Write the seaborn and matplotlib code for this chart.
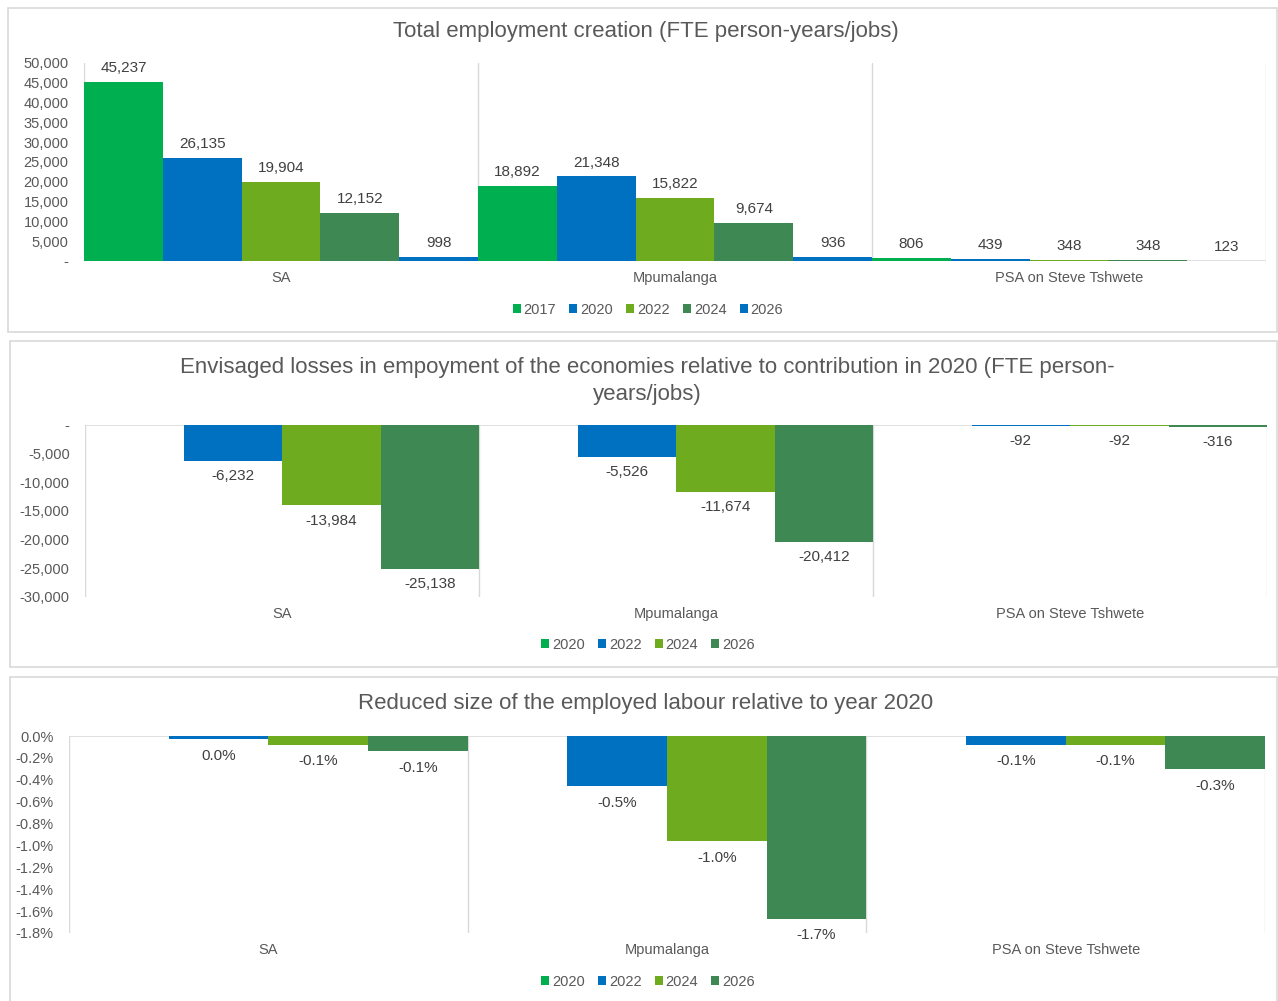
import matplotlib
matplotlib.use("Agg")
import matplotlib.pyplot as plt
from matplotlib.patches import Rectangle
from matplotlib.ticker import FuncFormatter, MultipleLocator
import pandas as pd
import seaborn as sns

regions = ["SA", "Mpumalanga", "PSA on Steve Tshwete"]

# Total employment creation (FTE person-years/jobs)
years_total = ["2017", "2020", "2022", "2024", "2026"]
total_2017 = [45237, 18892, 806]
total_2020 = [26135, 21348, 439]
total_2022 = [19904, 15822, 348]
total_2024 = [12152, 9674, 348]
total_2026 = [998, 936, 123]

# Envisaged losses relative to 2020
years_loss = ["2020", "2022", "2024", "2026"]
loss_2020 = [0, 0, 0]
loss_2022 = [-6232, -5526, -92]
loss_2024 = [-13984, -11674, -92]
loss_2026 = [-25138, -20412, -316]

# Reduced size of employed labour relative to 2020 (fraction)
share_2020 = [0.0, 0.0, 0.0]
share_2022 = [-0.0003, -0.0046, -0.0008]
share_2024 = [-0.0008, -0.0096, -0.0008]
share_2026 = [-0.0014, -0.0167, -0.0030]

GREEN = "#00B050"
BLUE = "#0070C0"
LIME = "#6EAB1E"
DARK = "#3E8853"
GRID = "#D9D9D9"
TXT = "#595959"
LAB = "#404040"

pal_total = {"2017": GREEN, "2020": BLUE, "2022": LIME, "2024": DARK, "2026": BLUE}
pal_loss = {"2020": GREEN, "2022": BLUE, "2024": LIME, "2026": DARK}


def long_df(years, series):
    rows = []
    for yr, vals in zip(years, series):
        for reg, v in zip(regions, vals):
            rows.append({"region": reg, "year": yr, "value": v})
    return pd.DataFrame(rows)


df_total = long_df(years_total, [total_2017, total_2020, total_2022, total_2024, total_2026])
df_loss = long_df(years_loss, [loss_2020, loss_2022, loss_2024, loss_2026])
df_share = long_df(years_loss, [share_2020, share_2022, share_2024, share_2026])

sns.set_theme(style="white")
plt.rcParams["font.family"] = ["Liberation Sans", "DejaVu Sans"]

W, H = 1278, 1001
fig = plt.figure(figsize=(W / 100, H / 100), dpi=100)


def fx(px):
    return px / W


def fy(py):
    return 1 - py / H


# chart borders
for (x0, y0, x1, y1) in [(8, 8, 1277, 332), (10, 341, 1277, 667), (10, 677, 1277, 1010)]:
    fig.patches.append(Rectangle((fx(x0), fy(y1)), fx(x1 - x0), (y1 - y0) / H,
                                 transform=fig.transFigure, fill=False,
                                 edgecolor=GRID, linewidth=1.2))


def panel(rect, df, years, palette, ylim, step, yfmt, lfmt, pad, legend_y):
    x0, y0, x1, y1 = rect
    ax = fig.add_axes([fx(x0), fy(y1), fx(x1 - x0), (y1 - y0) / H])
    sns.barplot(data=df, x="region", y="value", hue="year", hue_order=years,
                order=regions, palette=palette, width=1, gap=0, saturation=1,
                linewidth=0, errorbar=None, ax=ax)
    ax.set_xlim(-0.5, 2.5)
    ax.set_ylim(*ylim)
    ax.yaxis.set_major_locator(MultipleLocator(step))
    ax.yaxis.set_major_formatter(FuncFormatter(yfmt))
    for s in ax.spines.values():
        s.set_visible(False)
    for xv in [-0.5, 0.5, 1.5, 2.5]:
        ax.axvline(xv, color=GRID, linewidth=1, zorder=0)
    ax.axhline(0, color=GRID, linewidth=1.2, zorder=0)
    ax.set_xlabel("")
    ax.set_ylabel("")
    ax.tick_params(axis="x", length=0, pad=7, labelsize=10.5, labelcolor=TXT)
    ax.tick_params(axis="y", length=0, pad=11, labelsize=10.5, labelcolor=TXT)
    for cont in ax.containers:
        labels = [lfmt(b.get_height()) if b.get_height() != 0 else "" for b in cont]
        ax.bar_label(cont, labels=labels, padding=pad, fontsize=11, color=LAB)
    handles, labs = ax.get_legend_handles_labels()
    ax.legend(handles, labs, loc="center", ncol=len(years), frameon=False,
              bbox_to_anchor=(fx(648), fy(legend_y)), bbox_transform=fig.transFigure,
              handlelength=0.55, handleheight=0.55, handletextpad=0.2,
              columnspacing=0.9, fontsize=10.5, labelcolor=TXT)
    return ax


def thousands(v, pos=None):
    return "-" if abs(v) < 1e-9 else f"{v:,.0f}"


def pct(v, pos=None):
    s = f"{v:.1%}"
    return "0.0%" if s == "-0.0%" else s


panel((84, 63, 1266, 261), df_total, years_total, pal_total, (0, 50000), 5000,
      thousands, lambda v: f"{v:,.0f}", 5, 310)
fig.text(fx(646), fy(32), "Total employment creation (FTE person-years/jobs)",
         ha="center", va="center", fontsize=16, color=TXT)

panel((85, 425, 1267, 597), df_loss, years_loss, pal_loss, (-30000, 0), 5000,
      thousands, lambda v: f"{v:,.0f}", 6, 645)
fig.text(fx(647), fy(381),
         "Envisaged losses in empoyment of the economies relative to contribution in 2020 (FTE person-\nyears/jobs)",
         ha="center", va="center", fontsize=16, color=TXT, linespacing=1.4)

panel((69, 736, 1265, 933), df_share, years_loss, pal_loss, (-0.018, 0), 0.002,
      pct, pct, 7, 982)
fig.text(fx(646), fy(704), "Reduced size of the employed labour relative to year 2020",
         ha="center", va="center", fontsize=16, color=TXT)

fig.savefig("out.png", dpi=100, facecolor="white")
